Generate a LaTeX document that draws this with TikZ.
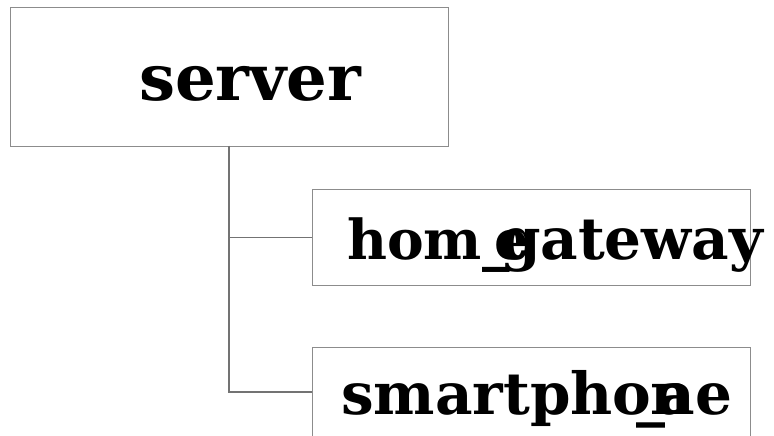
\documentclass[tikz,border=0pt]{standalone}
\usepackage{fontspec}
\setmainfont{DejaVu Serif}
\tikzset{
  box/.style={draw=black!45, line width=1.2bp, rectangle, inner sep=0pt, anchor=north west},
  lbl/.style={inner sep=0pt, anchor=base west},
  edge/.style={draw=black!55, line width=1.2bp}
}
\newcommand\lblfont[1]{\bfseries\fontsize{#1bp}{#1bp}\selectfont}
\begin{document}
\begin{tikzpicture}[x=1bp,y=-1bp]
\useasboundingbox (0,0) rectangle (774,436);
\clip (0,0) rectangle (774,436);
\node[box, minimum width=438bp, minimum height=139bp] (server) at (10,7) {};
\node[box, minimum width=438bp, minimum height=96bp] (gw) at (312,189) {};
\node[box, minimum width=438bp, minimum height=110bp] (phone) at (312,347) {};
\node[lbl, font=\lblfont{64}] (serverlbl) at (139,101) {server};
\node[lbl, font=\lblfont{55}] (gwlbl) at (347,260) {hom\rlap{\_}\kern12bp\rlap{e}\kern6bp{\lblfont{58}gateway}};
\node[lbl, font=\lblfont{58}] (phonelbl) at (341,414) {smartpho\kern-15bp\rlap{\_}\kern14bp\rlap{n}\kern7bp ae};
\coordinate (split) at (229,146);
\draw[edge] (split) |- (gw.west);
\draw[edge] (split) |- (312,392) coordinate (phin);
\end{tikzpicture}
\end{document}
